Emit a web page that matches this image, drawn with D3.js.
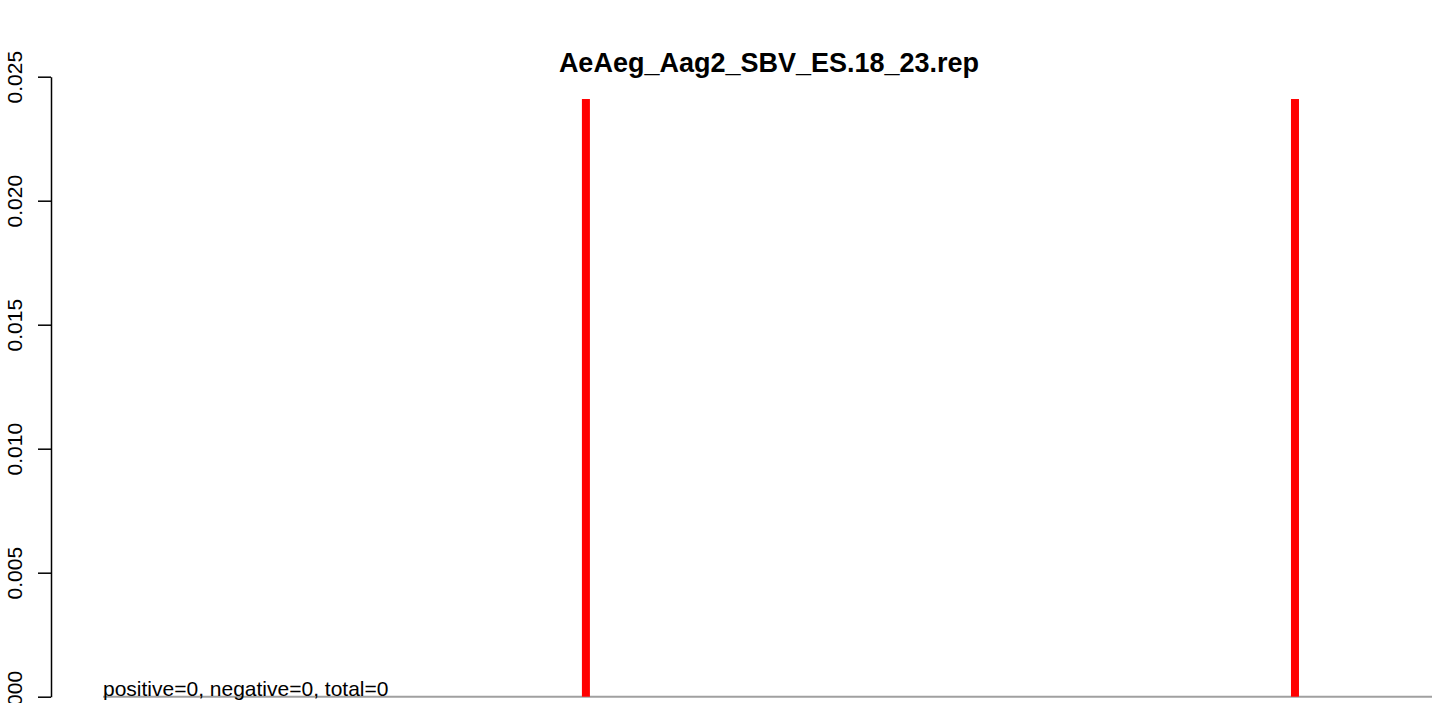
<!DOCTYPE html>
<html>
<head>
<meta charset="utf-8">
<script src="https://cdn.jsdelivr.net/npm/d3@7"></script>
<style>
  body { margin: 0; background: #fff; }
  svg { display: block; font-family: "Liberation Sans", Arial, sans-serif; }
</style>
</head>
<body>
<div id="chart"></div>
<script>
var title = 'AeAeg_Aag2_SBV_ES.18_23.rep';
var note = 'positive=0, negative=0, total=0';
var xDomain = [1, 1000];
var positions = [364, 897];
var values = [0.0241, 0.0241];
var yTicks = [0, 0.005, 0.010, 0.015, 0.020, 0.025];

(function () {
  var W = 1439, H = 703;
  var svg = d3.select('#chart').append('svg')
    .attr('width', W).attr('height', H);

  var x = d3.scaleLinear().domain(xDomain).range([103, 1432]);
  var y = d3.scaleLinear().domain([0, 0.025]).range([696.7, 76.7]);

  // y axis, R style: rotated labels, line only between end ticks
  var yAxis = svg.append('g')
    .attr('transform', 'translate(51,0)')
    .call(d3.axisLeft(y).tickValues(yTicks).tickSize(13).tickSizeOuter(0)
      .tickFormat(d3.format('.3f')));
  yAxis.select('.domain').attr('stroke', '#000').attr('stroke-width', 1.5);
  yAxis.selectAll('.tick line').attr('stroke', '#000').attr('stroke-width', 1.5);
  yAxis.selectAll('.tick text')
    .attr('transform', 'rotate(-90)')
    .attr('x', 0).attr('y', -29).attr('dy', 0)
    .attr('text-anchor', 'middle')
    .attr('fill', '#000')
    .style('font-size', '21px')
    .style('font-family', '"Liberation Sans", Arial, sans-serif');

  // baseline
  svg.append('line')
    .attr('x1', x(xDomain[0])).attr('x2', x(xDomain[1]))
    .attr('y1', y(0)).attr('y2', y(0))
    .attr('stroke', '#a0a0a0').attr('stroke-width', 2);

  // bars
  svg.selectAll('rect.bar')
    .data(positions)
    .enter().append('rect')
    .attr('class', 'bar')
    .attr('x', function (d) { return x(d) - 4; })
    .attr('width', 8)
    .attr('y', function (d, i) { return y(values[i]); })
    .attr('height', function (d, i) { return y(0) - y(values[i]); })
    .attr('fill', '#ff0000');

  svg.append('text')
    .attr('x', 103).attr('y', 696)
    .style('font-size', '21px')
    .text(note);

  svg.append('text')
    .attr('x', 769).attr('y', 72)
    .attr('text-anchor', 'middle')
    .style('font-size', '27px')
    .style('font-weight', 'bold')
    .text(title);
})();
</script>
</body>
</html>
